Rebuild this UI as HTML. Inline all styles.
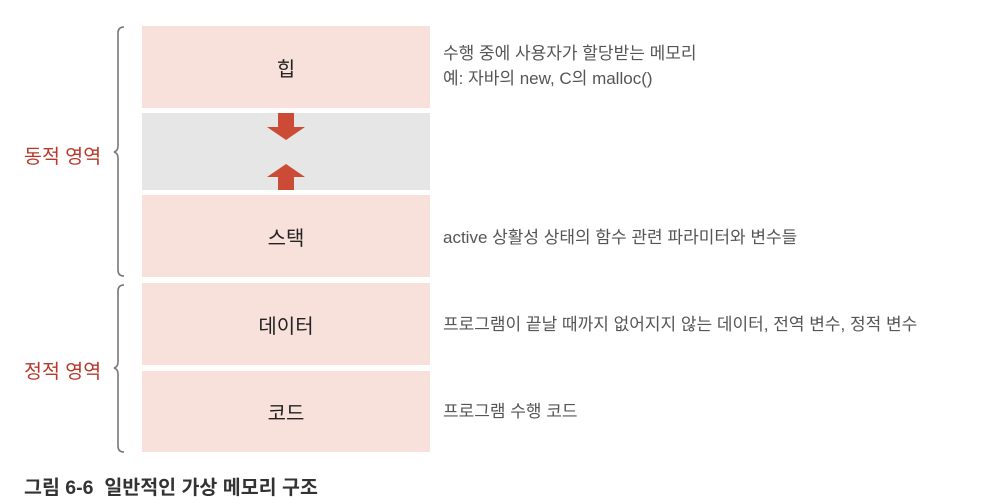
<!DOCTYPE html>
<html><head><meta charset="utf-8"><style>
body{margin:0;width:1004px;height:498px;background:#fff;font-family:"Liberation Sans","Noto Sans CJK KR",sans-serif;position:relative;overflow:hidden}
.b{position:absolute;left:142px;width:288px;background:#f9e1db;display:flex;align-items:center;justify-content:center;font-size:20px;color:#222}
.t{position:absolute;left:443px;font-size:17px;color:#555;line-height:25px}
.l{position:absolute;left:24px;font-size:19.5px;color:#b8382a}
</style></head><body>
<div class="b" style="top:26px;height:82px">힙</div>
<div class="b" style="top:113px;height:77px;background:#e6e6e6"></div>
<div class="b" style="top:195px;height:82px">스택</div>
<div class="b" style="top:283px;height:82px">데이터</div>
<div class="b" style="top:371px;height:81px">코드</div>
<svg width="1004" height="498" style="position:absolute;left:0;top:0">
<polygon points="278,113 294,113 294,127 305,127 286,140 267,127 278,127" fill="#cc4b37"/>
<polygon points="278,190 294,190 294,177 305,177 286,164 267,177 278,177" fill="#cc4b37"/>
<path d="M124,27 Q118,27 118,33 L118,146 Q118,151 114,152 Q118,153 118,158 L118,270 Q118,276 124,276" fill="none" stroke="#777" stroke-width="1.6"/>
<path d="M124,285 Q118,285 118,291 L118,362 Q118,367 114,368 Q118,369 118,374 L118,446 Q118,452 124,452" fill="none" stroke="#777" stroke-width="1.6"/>
</svg>
<div class="l" style="top:140px">동적 영역</div>
<div class="l" style="top:355px">정적 영역</div>
<div class="t" style="top:41px">수행 중에 사용자가 할당받는 메모리<br>예: 자바의 new, C의 malloc()</div>
<div class="t" style="top:225px">active 상활성 상태의 함수 관련 파라미터와 변수들</div>
<div class="t" style="top:312px">프로그램이 끝날 때까지 없어지지 않는 데이터, 전역 변수, 정적 변수</div>
<div class="t" style="top:399px">프로그램 수행 코드</div>
<div style="position:absolute;left:24px;top:471px;font-size:19.5px;font-weight:bold;color:#333">그림 6-6&nbsp; 일반적인 가상 메모리 구조</div>
</body></html>
